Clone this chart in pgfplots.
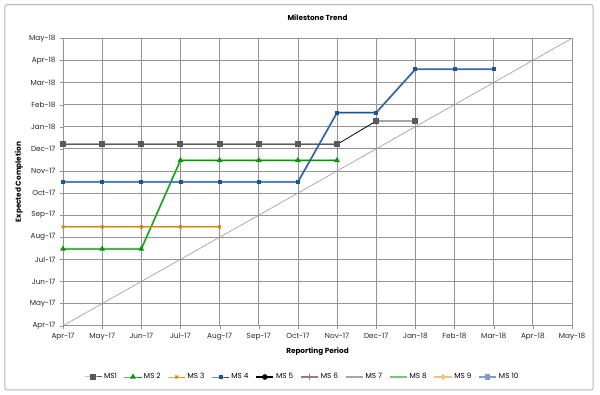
\documentclass[border=0pt]{standalone}
\usepackage{pgfplots}
\pgfplotsset{compat=1.18}
\usepackage{fontspec}
\setmainfont{Poppins}
\definecolor{msone}{HTML}{5A5A5A}
\definecolor{mstwo}{HTML}{0A960A}
\definecolor{msthree}{HTML}{C98A12}
\definecolor{msfour}{HTML}{1A5596}
\definecolor{mssix}{HTML}{A07878}
\definecolor{msseven}{HTML}{A6A6A6}
\definecolor{mseight}{HTML}{70CC70}
\definecolor{msnine}{HTML}{EDC27A}
\definecolor{msten}{HTML}{7F9CC8}
\begin{document}
\begin{tikzpicture}
\useasboundingbox (-63pt,-69.3pt) rectangle (537pt,325.7pt);
\fill[white] (-63pt,-69.3pt) rectangle (537pt,325.7pt);
\draw[gray!55, line width=1pt, rounded corners=2pt] (-58pt,-64.3pt) rectangle (530pt,321pt);
\begin{axis}[
  scale only axis, width=509pt, height=287.4pt,
  xmin=0, xmax=13, ymin=0, ymax=13,
  xtick={0,...,13}, ytick={0,...,13},
  xticklabels={Apr-17,May-17,Jun-17,Jul-17,Aug-17,Sep-17,Oct-17,Nov-17,Dec-17,Jan-18,Feb-18,Mar-18,Apr-18,May-18},
  yticklabels={Apr-17,May-17,Jun-17,Jul-17,Aug-17,Sep-17,Oct-17,Nov-17,Dec-17,Jan-18,Feb-18,Mar-18,Apr-18,May-18},
  ticklabel style={font=\fontsize{7.3}{8}\selectfont, text=black!85},
  xticklabel style={yshift=-1pt},
  yticklabel style={xshift=-1pt},
  grid=major, grid style={gray!85, line width=0.7pt},
  axis line style={gray!85},
  tick style={gray!85}, tick align=outside, major tick length=3pt,
  xtick pos=bottom, ytick pos=left,
  legend columns=10,
  legend style={at={(0.47,0)}, anchor=center, yshift=-51.3pt, draw=none, fill=none,
    font=\fontsize{7.3}{8}\selectfont, /tikz/every even column/.append style={column sep=5pt}},
  legend cell align=left,
]
% diagonal reference
\addplot[gray!80, line width=0.6pt, forget plot] coordinates {(0,0) (13,13)};
% background (lighter) series
\addplot[msseven, line width=2pt, forget plot] coordinates {(0,8.2)(1,8.2)(2,8.2)(3,8.2)(4,8.2)(5,8.2)(6,8.2)(7,8.2)};
\addplot[mseight, line width=2pt, forget plot] coordinates {(0,3.47)(1,3.47)(2,3.47)(3,7.48)(4,7.48)(5,7.48)(6,7.48)(7,7.48)};
\addplot[msnine, line width=2.2pt, forget plot] coordinates {(0,4.47)(1,4.47)(2,4.47)(3,4.47)(4,4.47)};
\addplot[msten, line width=2pt, forget plot] coordinates {(0,6.5)(1,6.5)(2,6.5)(3,6.5)(4,6.5)(5,6.5)(6,6.5)(7,9.64)(8,9.64)(9,11.6)(10,11.6)(11,11.6)};
% MS5 black segment
\addplot[black, line width=0.8pt, forget plot] coordinates {(7,8.2)(8,9.26)(9,9.26)};
% main series
\addplot[msone, line width=1pt, mark=square*, mark size=2.5pt, mark options={fill=msone, draw=msone}] coordinates {(0,8.2)(1,8.2)(2,8.2)(3,8.2)(4,8.2)(5,8.2)(6,8.2)(7,8.2)};
\addlegendentry{MS1}
\addplot[mstwo, line width=0.9pt, mark=triangle*, mark size=2.5pt] coordinates {(0,3.47)(1,3.47)(2,3.47)(3,7.48)(4,7.48)(5,7.48)(6,7.48)(7,7.48)};
\addlegendentry{MS 2}
\addplot[msthree, line width=0.9pt, mark=x, mark size=2pt, mark options={line width=1.2pt}] coordinates {(0,4.47)(1,4.47)(2,4.47)(3,4.47)(4,4.47)};
\addlegendentry{MS 3}
\addplot[msfour, line width=0.9pt, mark=square*, mark size=1.5pt] coordinates {(0,6.5)(1,6.5)(2,6.5)(3,6.5)(4,6.5)(5,6.5)(6,6.5)(7,9.64)(8,9.64)(9,11.6)(10,11.6)(11,11.6)};
\addlegendentry{MS 4}
\addplot[black, line width=0.9pt, mark=*, mark size=2pt, forget plot] coordinates {(8,9.26)};
\addplot[msone, line width=1pt, only marks, mark=square*, mark size=2.5pt, mark options={fill=msone, draw=msone}, forget plot] coordinates {(8,9.26)(9,9.26)};
\addlegendimage{black, line width=1.5pt, mark=*, mark size=2pt}
\addlegendentry{MS 5}
\addlegendimage{mssix, line width=1.5pt, mark=+, mark size=3pt}
\addlegendentry{MS 6}
\addlegendimage{msseven, line width=1.5pt}
\addlegendentry{MS 7}
\addlegendimage{mseight, line width=1.5pt}
\addlegendentry{MS 8}
\addlegendimage{msnine, line width=1.5pt, mark=diamond*, mark size=2pt}
\addlegendentry{MS 9}
\addlegendimage{msten, line width=1.5pt, mark=square*, mark size=1.8pt}
\addlegendentry{MS 10}
\end{axis}
\node[font=\fontsize{7.3}{8}\selectfont\bfseries] at (254.5pt,308.5pt) {Milestone Trend};
\node[font=\fontsize{7.3}{8}\selectfont\bfseries] at (254.5pt,-26.3pt) {Reporting Period};
\node[font=\fontsize{7.3}{8}\selectfont\bfseries, rotate=90] at (-44pt,143.7pt) {Expected Completion};
\end{tikzpicture}
\end{document}
